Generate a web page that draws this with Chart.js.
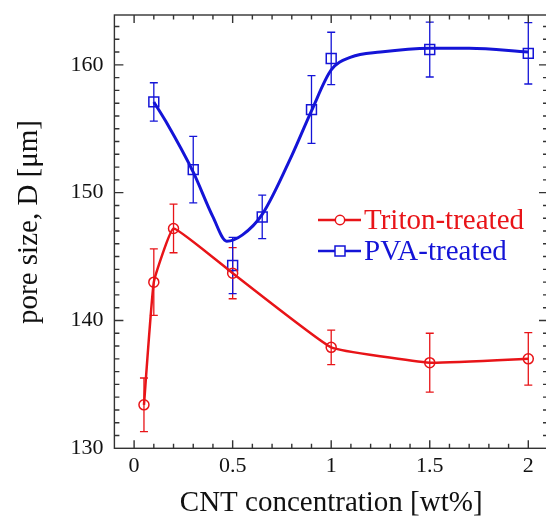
<!DOCTYPE html>
<html>
<head>
<meta charset="utf-8">
<title>Pore size vs CNT concentration</title>
<script src="https://cdn.jsdelivr.net/npm/chart.js"></script>
<style>
  html, body { margin: 0; padding: 0; background: #fff; overflow: hidden; }
  #wrap { width: 546px; height: 519px; overflow: hidden; }
</style>
</head>
<body>
<div id="wrap"><canvas id="chart" width="550" height="519"></canvas></div>
<script>
// values: CNT wt%, pore size (um), +/- error
const tritonX = [0.05, 0.1, 0.2, 0.5, 1.0, 1.5, 2.0];
const tritonY = [133.4, 143.0, 147.2, 143.7, 137.9, 136.7, 137.0];
const tritonErr = [2.1, 2.6, 1.9, 2.0, 1.35, 2.3, 2.05];

const pvaX = [0.1, 0.3, 0.5, 0.65, 0.9, 1.0, 1.5, 2.0];
const pvaY = [157.1, 151.8, 144.3, 148.1, 156.5, 160.5, 161.2, 160.9];
const pvaErr = [1.5, 2.6, 2.2, 1.7, 2.65, 2.05, 2.15, 2.4];

// smooth guide curve drawn through the PVA data
const pvaFitX = [0.1, 0.16, 0.3, 0.4, 0.47, 0.55, 0.65, 0.8, 0.9, 1.0, 1.1, 1.25, 1.5, 1.7, 2.0];
const pvaFitY = [157.1, 155.6, 151.6, 148.1, 146.2, 146.7, 148.3, 152.9, 156.4, 159.6, 160.6, 161.0, 161.3, 161.3, 161.0];

const xTicks = [0, 0.5, 1, 1.5, 2];
const yTicks = [130, 140, 150, 160];
const yTitle = 'pore size, D [μm]';

const RED = 'rgb(232, 20, 24)';
const BLUE = 'rgb(20, 20, 215)';
const INK = '#111';
const FONT = "'Liberation Serif', 'Times New Roman', serif";

function pts(xs, ys) {
    return xs.map((x, i) => ({x: x, y: ys[i]}));
}

// keep the plot box where the original had it
function noPadding(s) {
    s.paddingTop = 0;
    s.paddingBottom = 0;
    s.paddingLeft = 0;
    s.paddingRight = 0;
}

const decorations = {
    id: 'decorations',
    beforeDatasetsDraw(chart) {
        const ctx = chart.ctx;
        const sx = chart.scales.x, sy = chart.scales.y;
        ctx.save();
        chart.data.datasets.forEach(ds => {
            if (!ds.errors) return;
            ctx.strokeStyle = ds.borderColor;
            ctx.lineWidth = 1.3;
            ds.data.forEach((p, i) => {
                const px = sx.getPixelForValue(p.x);
                const top = sy.getPixelForValue(p.y + ds.errors[i]);
                const bot = sy.getPixelForValue(p.y - ds.errors[i]);
                ctx.beginPath();
                ctx.moveTo(px, top); ctx.lineTo(px, bot);
                ctx.moveTo(px - 4, top); ctx.lineTo(px + 4, top);
                ctx.moveTo(px - 4, bot); ctx.lineTo(px + 4, bot);
                ctx.stroke();
            });
        });
        ctx.restore();
    },
    afterDatasetsDraw(chart) {
        const ctx = chart.ctx;
        const a = chart.chartArea;
        const sx = chart.scales.x, sy = chart.scales.y;
        ctx.save();
        // frame
        ctx.strokeStyle = '#333';
        ctx.lineWidth = 1.4;
        ctx.strokeRect(a.left, a.top, a.right - a.left, a.bottom - a.top);
        // inward ticks
        ctx.beginPath();
        for (let i = 0; i <= 20; i++) {
            const px = sx.getPixelForValue(i / 10);
            const len = i % 5 === 0 ? 8 : 4.5;
            ctx.moveTo(px, a.bottom); ctx.lineTo(px, a.bottom - len);
            ctx.moveTo(px, a.top); ctx.lineTo(px, a.top + len);
        }
        for (let v = 131; v <= 163; v++) {
            const py = sy.getPixelForValue(v);
            const len = v % 10 === 0 ? 9 : 5;
            ctx.moveTo(a.left, py); ctx.lineTo(a.left + len, py);
            ctx.moveTo(a.right, py); ctx.lineTo(a.right - len, py);
        }
        ctx.stroke();

        // y axis title (sits a little above the plot centre in the original)
        ctx.save();
        ctx.translate(29, 222);
        ctx.rotate(-Math.PI / 2);
        ctx.font = '29px ' + FONT;
        ctx.fillStyle = INK;
        ctx.textAlign = 'center';
        ctx.textBaseline = 'middle';
        ctx.fillText(yTitle, 0, 0);
        ctx.restore();

        // legend
        const rows = chart.data.datasets.filter(ds => ds.inLegend);
        ctx.font = '29px ' + FONT;
        ctx.textBaseline = 'middle';
        rows.forEach((ds, k) => {
            const y = 220 + k * 31;
            ctx.strokeStyle = ds.borderColor;
            ctx.lineWidth = 2.5;
            ctx.beginPath();
            ctx.moveTo(318, y); ctx.lineTo(361, y);
            ctx.stroke();
            ctx.lineWidth = 1.5;
            ctx.fillStyle = '#fff';
            ctx.beginPath();
            if (ds.pointStyle === 'rect') {
                ctx.rect(335, y - 5, 10, 10);
            } else {
                ctx.arc(340, y, 4.7, 0, Math.PI * 2);
            }
            ctx.fill();
            ctx.stroke();
            ctx.fillStyle = ds.borderColor;
            ctx.fillText(ds.label, 364, y + 1);
        });
        ctx.restore();
    }
};

new Chart(document.getElementById('chart'), {
    type: 'scatter',
    data: {
        datasets: [
            {
                label: 'PVA fit',
                data: pts(pvaFitX, pvaFitY),
                showLine: true,
                borderColor: BLUE,
                borderWidth: 3,
                pointRadius: 0,
                cubicInterpolationMode: 'monotone'
            },
            {
                label: 'Triton-treated',
                data: pts(tritonX, tritonY),
                errors: tritonErr,
                inLegend: true,
                showLine: true,
                borderColor: RED,
                borderWidth: 2.5,
                backgroundColor: 'rgba(0,0,0,0)',
                pointStyle: 'circle',
                pointRadius: 5,
                pointBorderWidth: 1.5,
                tension: 0.1
            },
            {
                label: 'PVA-treated',
                data: pts(pvaX, pvaY),
                errors: pvaErr,
                inLegend: true,
                showLine: false,
                borderColor: BLUE,
                backgroundColor: 'rgba(0,0,0,0)',
                pointStyle: 'rect',
                pointRadius: 7,
                pointBorderWidth: 1.5
            }
        ]
    },
    options: {
        responsive: false,
        animation: false,
        events: [],
        layout: { autoPadding: false, padding: { top: 15, right: 2, left: 0, bottom: 0 } },
        plugins: {
            legend: { display: false },
            tooltip: { enabled: false }
        },
        scales: {
            x: {
                type: 'linear',
                min: -0.1,
                max: 2.1,
                grid: { display: false, drawTicks: false },
                border: { display: false },
                afterBuildTicks: s => { s.ticks = xTicks.map(v => ({value: v})); },
                afterFit: s => { s.height = 70.7; noPadding(s); },
                ticks: {
                    font: { family: FONT, size: 22 },
                    color: INK,
                    padding: 5,
                    maxRotation: 0,
                    autoSkip: false,
                    callback: v => String(v)
                },
                title: {
                    display: true,
                    text: 'CNT concentration [wt%]',
                    color: INK,
                    font: { family: FONT, size: 29, lineHeight: 1 },
                    padding: { top: 0, bottom: 1.5 }
                }
            },
            y: {
                min: 130,
                max: 163.9,
                grid: { display: false, drawTicks: false },
                border: { display: false },
                afterBuildTicks: s => { s.ticks = yTicks.map(v => ({value: v})); },
                afterFit: s => { s.width = 114.4; noPadding(s); },
                ticks: {
                    font: { family: FONT, size: 22 },
                    color: INK,
                    padding: 11,
                    autoSkip: false,
                    callback: v => String(v)
                },
                title: { display: false }
            }
        }
    },
    plugins: [decorations]
});
</script>
</body>
</html>
